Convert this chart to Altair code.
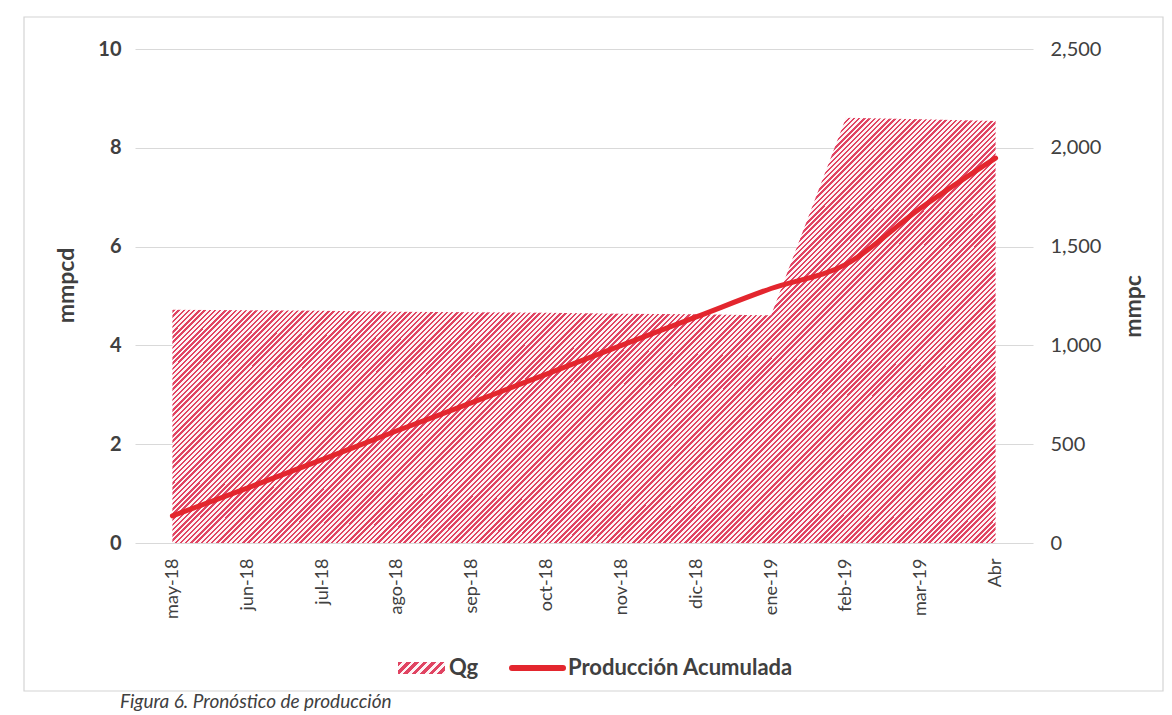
import altair as alt
import pandas as pd

# ---- data ----
months = ["may-18", "jun-18", "jul-18", "ago-18", "sep-18", "oct-18",
          "nov-18", "dic-18", "ene-19", "feb-19", "mar-19", "Abr"]
qg = [4.72, 4.71, 4.70, 4.68, 4.67, 4.66, 4.64, 4.63, 4.61, 8.61, 8.58, 8.54]
acum = [137, 278, 422, 568, 710, 855, 1000, 1144, 1288, 1410, 1695, 1948]
left_ticks = [0, 2, 4, 6, 8, 10]
right_ticks = [0, 500, 1000, 1500, 2000, 2500]

df = pd.DataFrame({"mes": months, "Qg": qg, "Acum": acum})
one = pd.DataFrame({"k": [0]})

FONT = "Lato"
TXT = "#404040"
RED = "#e3262e"
STRIPE = "#e04462"
GAP = "#fdf4f6"

W, H = 898, 494


def hatch(cycles, ratio, duty=0.5):
    # diagonal "/" stripes at 45 degrees over a box of aspect ratio = h / w
    k = (1 + ratio) / (1 + ratio * ratio)
    stops = []
    for i in range(cycles):
        a = i / cycles
        m = (i + duty) / cycles
        b = (i + 1) / cycles
        stops += [
            alt.GradientStop(color=STRIPE, offset=a),
            alt.GradientStop(color=STRIPE, offset=m),
            alt.GradientStop(color=GAP, offset=m),
            alt.GradientStop(color=GAP, offset=b),
        ]
    return alt.LinearGradient(gradient="linear", stops=stops,
                              x1=0, y1=0, x2=k, y2=k * ratio)


x_enc = alt.X(
    "mes:N", sort=months,
    scale=alt.Scale(type="point", padding=0.5),
    axis=alt.Axis(title=None, labelAngle=-90, labelFont=FONT, labelFontSize=18,
                  labelColor=TXT, domain=False, ticks=False, tickSize=0,
                  labelPadding=15, grid=False),
)

area = alt.Chart(df).mark_area(fill=hatch(240, 0.516, 0.47)).encode(
    x=x_enc,
    y=alt.Y("Qg:Q", scale=alt.Scale(domain=[0, 10]),
            axis=alt.Axis(values=left_ticks, title="mmpcd", grid=True,
                          gridColor="#d9d9d9", gridWidth=1.2, domain=False,
                          ticks=False, tickSize=0, labelFont=FONT,
                          labelFontSize=20, labelFontWeight="bold",
                          labelColor=TXT, labelPadding=14,
                          titleFont=FONT, titleFontSize=23,
                          titleFontWeight="bold", titleColor=TXT,
                          titleAngle=270, titleX=-69, titleY=236,
                          titleAlign="center", titleBaseline="middle")),
)

line = alt.Chart(df).mark_line(color=RED, strokeWidth=5, interpolate="monotone",
                               strokeCap="round").encode(
    x=x_enc,
    y=alt.Y("Acum:Q", scale=alt.Scale(domain=[0, 2500]),
            axis=alt.Axis(orient="right", values=right_ticks, format=",.0f",
                          title="mmpc", grid=False, domain=False, ticks=False,
                          tickSize=0, labelFont=FONT, labelFontSize=20,
                          labelColor=TXT, labelPadding=17,
                          titleFont=FONT, titleFontSize=23,
                          titleFontWeight="bold", titleColor=TXT,
                          titleAngle=270, titleX=100, titleY=257,
                          titleAlign="center", titleBaseline="middle")),
)

frame = alt.Chart(one).mark_rect(filled=False, color="#d4d4d4", strokeWidth=1.2).encode(
    x=alt.value(-111), x2=alt.value(1028), y=alt.value(-32), y2=alt.value(642)
)

leg_swatch = alt.Chart(one).mark_rect(fill=hatch(7, 0.255, 0.55)).encode(
    x=alt.value(263), x2=alt.value(310), y=alt.value(613), y2=alt.value(625)
)
leg_qg = alt.Chart(one).mark_text(align="left", baseline="middle", font=FONT,
                                  fontSize=22, fontWeight="bold", color=TXT).encode(
    x=alt.value(314), y=alt.value(619), text=alt.value("Qg")
)
leg_line = alt.Chart(one).mark_rule(color=RED, strokeWidth=6, strokeCap="round").encode(
    x=alt.value(377), x2=alt.value(428), y=alt.value(619)
)
leg_acum = alt.Chart(one).mark_text(align="left", baseline="middle", font=FONT,
                                    fontSize=22, fontWeight="bold", color=TXT).encode(
    x=alt.value(433), y=alt.value(619), text=alt.value("Producción Acumulada")
)
caption = alt.Chart(one).mark_text(align="left", baseline="alphabetic", font=FONT,
                                   fontSize=19, fontStyle="italic", color=TXT).encode(
    x=alt.value(-15), y=alt.value(659),
    text=alt.value("Figura 6. Pronóstico de producción")
)

chart = alt.layer(
    frame, area, line, leg_swatch, leg_qg, leg_line, leg_acum, caption
).resolve_scale(y="independent").properties(
    width=W, height=H,
    padding={"left": 127, "top": 41, "right": 131, "bottom": 172},
    autosize=alt.AutoSizeParams(type="none"),
    background="white",
).configure_view(strokeWidth=0)

chart.save("out.html", embed_options={"renderer": "svg", "actions": False})
